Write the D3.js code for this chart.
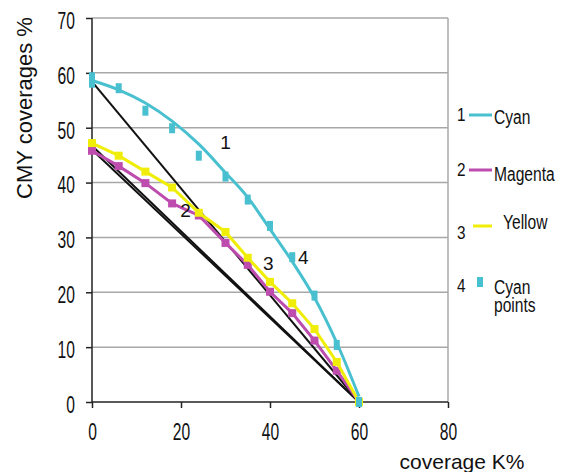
<!DOCTYPE html>
<html>
<head>
<meta charset="utf-8">
<script src="https://cdn.jsdelivr.net/npm/d3@7"></script>
<style>
  body { margin: 0; background: #fff; }
  svg { display: block; }
  text { font-family: "Liberation Sans", Arial, sans-serif; }
</style>
</head>
<body>
<div id="chart"></div>
<script>
// coverage K% sampled on the x axis
const kValues = [0, 6, 12, 18, 24, 30, 35, 40, 45, 50, 55, 60];

const cyanCurve = [58.6, 56.9, 54.5, 51.2, 47.0, 41.8, 37.3, 31.5, 25.6, 19.0, 10.8, 1.0];
const magenta   = [45.8, 43.0, 39.9, 36.2, 34.0, 29.0, 25.0, 20.1, 16.2, 11.2, 5.7, 0];
const yellow    = [47.2, 44.9, 42.0, 39.1, 34.5, 31.0, 26.3, 21.9, 18.0, 13.3, 7.3, 0];

// cyan measured points
const cyanPointK = [0, 0, 6, 12, 18, 24, 30, 35, 40, 45, 50, 55, 60];
const cyanPointV = [59.2, 58.2, 57.2, 53.1, 49.9, 44.9, 41.1, 36.9, 32.1, 26.4, 19.4, 10.4, 0];

// straight black reference lines: start value at K=0, all end at K=60, 0%
const refStarts = [58.4, 46.7, 46.0];
const refEndK = 60;

const xTicks = [0, 20, 40, 60, 80];
const yTicks = [0, 10, 20, 30, 40, 50, 60, 70];

const colors = {
    cyan: "#49c0cf",
    magenta: "#bd4cae",
    yellow: "#f0ee08",
    black: "#111",
    grid: "#a8a8a8"
};

const W = 565, H = 472;
const x = d3.scaleLinear().domain([0, 80]).range([92, 448]);
const y = d3.scaleLinear().domain([0, 70]).range([402, 18]);

const svg = d3.select("#chart").append("svg")
    .attr("width", W)
    .attr("height", H);

// squeeze text horizontally, like the narrow font of the original
function narrow(sel, f) {
    sel.each(function() {
        const len = this.getComputedTextLength();
        d3.select(this)
            .attr("textLength", len * f)
            .attr("lengthAdjust", "spacingAndGlyphs");
    });
}

// grid lines
svg.append("g").selectAll("line")
    .data(yTicks.filter(d => d > 0))
    .enter().append("line")
    .attr("x1", x(0)).attr("x2", x(80))
    .attr("y1", d => y(d)).attr("y2", d => y(d))
    .attr("stroke", colors.grid)
    .attr("stroke-width", 1.5);

svg.append("line")
    .attr("x1", x(80)).attr("x2", x(80))
    .attr("y1", y(70)).attr("y2", y(0))
    .attr("stroke", colors.grid)
    .attr("stroke-width", 1.5);

// axes
const yAxis = svg.append("g")
    .attr("transform", `translate(${x(0)},0)`)
    .call(d3.axisLeft(y).tickValues(yTicks).tickSize(6).tickPadding(11));
const xAxis = svg.append("g")
    .attr("transform", `translate(0,${y(0)})`)
    .call(d3.axisBottom(x).tickValues(xTicks).tickSize(6).tickPadding(16));

[xAxis, yAxis].forEach(a => {
    a.select(".domain").attr("stroke", "#222").attr("stroke-width", 1.5);
    a.selectAll(".tick line").attr("stroke", "#222").attr("stroke-width", 1.5);
    a.selectAll("text")
        .attr("font-family", "Liberation Sans, Arial, sans-serif")
        .attr("font-size", 23)
        .attr("fill", "#111")
        .call(narrow, 0.68);
});
yAxis.selectAll("text").attr("dy", "0.45em");
yAxis.select(".domain").attr("d", `M0,${y(70)}V${y(0)}`);
xAxis.select(".domain").attr("d", `M${x(0)},0H${x(80)}`);

// black reference lines
svg.append("g").selectAll("line")
    .data(refStarts)
    .enter().append("line")
    .attr("x1", x(0)).attr("y1", d => y(d))
    .attr("x2", x(refEndK)).attr("y2", y(0))
    .attr("stroke", colors.black)
    .attr("stroke-width", 2);

const line = d3.line()
    .x(d => x(d.k))
    .y(d => y(d.v));

const series = [
    { key: "magenta", values: magenta },
    { key: "yellow", values: yellow }
];

series.forEach(s => {
    const pts = kValues.map((k, i) => ({ k: k, v: s.values[i] }));
    svg.append("path")
        .datum(pts)
        .attr("d", line)
        .attr("fill", "none")
        .attr("stroke", colors[s.key])
        .attr("stroke-width", 3);
    svg.append("g").selectAll("rect")
        .data(pts)
        .enter().append("rect")
        .attr("x", d => x(d.k) - 4)
        .attr("y", d => y(d.v) - 4)
        .attr("width", 8)
        .attr("height", 8)
        .attr("fill", colors[s.key]);
});

// cyan smooth curve
const cyanPts = kValues.map((k, i) => ({ k: k, v: cyanCurve[i] }));
svg.append("path")
    .datum(cyanPts)
    .attr("d", d3.line().x(d => x(d.k)).y(d => y(d.v)).curve(d3.curveMonotoneX))
    .attr("fill", "none")
    .attr("stroke", colors.cyan)
    .attr("stroke-width", 3);

svg.append("g").selectAll("rect")
    .data(cyanPointK.map((k, i) => ({ k: k, v: cyanPointV[i] })))
    .enter().append("rect")
    .attr("x", d => x(d.k) - 3)
    .attr("y", d => y(d.v) - 5)
    .attr("width", 6)
    .attr("height", 10)
    .attr("fill", colors.cyan);

// numbers next to the curves
const curveLabels = [
    { t: "1", k: 30, v: 47.3 },
    { t: "2", k: 21, v: 35.0 },
    { t: "3", k: 39.6, v: 25.2 },
    { t: "4", k: 47.5, v: 26.3 }
];
svg.append("g").selectAll("text")
    .data(curveLabels)
    .enter().append("text")
    .attr("x", d => x(d.k))
    .attr("y", d => y(d.v))
    .attr("dy", "0.35em")
    .attr("text-anchor", "middle")
    .attr("font-size", 19)
    .attr("fill", "#111")
    .text(d => d.t);

// axis titles
svg.append("text")
    .attr("transform", "translate(32,108) rotate(-90)")
    .attr("text-anchor", "middle")
    .attr("font-size", 22)
    .attr("fill", "#111")
    .text("CMY coverages %");

svg.append("text")
    .attr("x", 462)
    .attr("y", 469)
    .attr("text-anchor", "middle")
    .attr("font-size", 21)
    .attr("fill", "#111")
    .text("coverage K%");

// legend
const legend = [
    { n: "1", ny: 121, mark: "line", c: colors.cyan, x1: 469, x2: 492, my: 115, lines: ["Cyan"], tx: 494, ty: 124 },
    { n: "2", ny: 176, mark: "line", c: colors.magenta, x1: 469, x2: 492, my: 170, lines: ["Magenta"], tx: 494, ty: 181 },
    { n: "3", ny: 239, mark: "line", c: colors.yellow, x1: 473, x2: 492, my: 226, lines: ["Yellow"], tx: 503, ty: 229 },
    { n: "4", ny: 292, mark: "rect", c: colors.cyan, x1: 477, x2: 483, my: 282, lines: ["Cyan", "points"], tx: 494, ty: 294 }
];
const lg = svg.append("g").selectAll("g")
    .data(legend)
    .enter().append("g");

lg.append("text")
    .attr("x", 457)
    .attr("y", d => d.ny)
    .attr("font-size", 18)
    .attr("fill", "#111")
    .text(d => d.n)
    .call(narrow, 0.85);

lg.filter(d => d.mark === "line").append("line")
    .attr("x1", d => d.x1).attr("x2", d => d.x2)
    .attr("y1", d => d.my).attr("y2", d => d.my)
    .attr("stroke", d => d.c)
    .attr("stroke-width", 3);

lg.filter(d => d.mark === "rect").append("rect")
    .attr("x", d => d.x1)
    .attr("y", d => d.my - 5)
    .attr("width", d => d.x2 - d.x1)
    .attr("height", 10)
    .attr("fill", d => d.c);

lg.each(function(d) {
    const g = d3.select(this);
    d.lines.forEach((t, i) => {
        g.append("text")
            .attr("x", d.tx)
            .attr("y", d.ty + i * 18)
            .attr("font-size", 20)
            .attr("fill", "#111")
            .text(t)
            .call(narrow, 0.78);
    });
});
</script>
</body>
</html>
